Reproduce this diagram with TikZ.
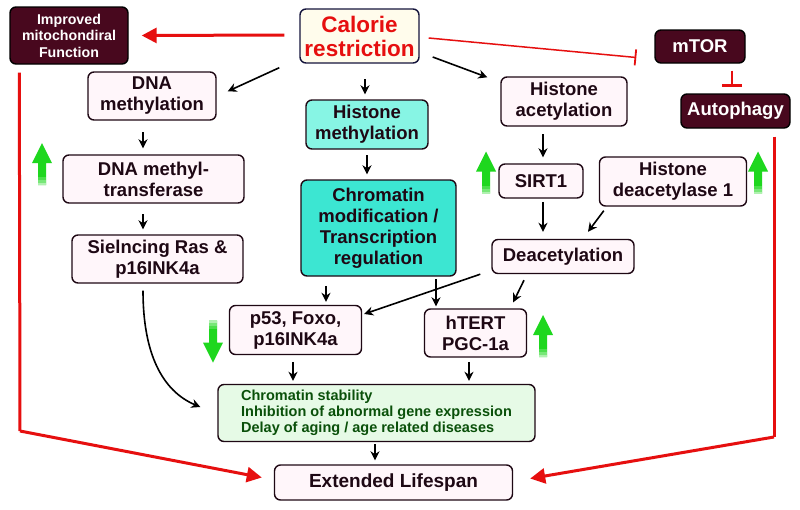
\documentclass[tikz,border=0pt]{standalone}
\usepackage{fontspec}
\setmainfont{Liberation Sans}
\usetikzlibrary{arrows.meta,calc}
\definecolor{maroon}{RGB}{72,8,30}
\definecolor{pinkbg}{RGB}{255,246,250}
\definecolor{calbg}{RGB}{255,252,236}
\definecolor{lcyan}{RGB}{135,245,228}
\definecolor{dcyan}{RGB}{60,230,210}
\definecolor{gbox}{RGB}{230,250,230}
\definecolor{gtext}{RGB}{10,80,10}
\definecolor{myred}{RGB}{230,15,15}
\definecolor{txt}{RGB}{30,8,20}
\definecolor{garrow}{RGB}{30,215,30}
\begin{document}
\begin{tikzpicture}[x=1pt,y=-1pt,
  box/.style={draw=txt, line width=1.4pt, rounded corners=6pt, fill=pinkbg, text=txt,
    font=\fontsize{18.5}{21}\selectfont\bfseries, align=center, inner sep=0pt},
  darkbox/.style={box, fill=maroon, text=white, draw=black},
  blk/.style={draw=black, line width=1.6pt, -{Stealth[length=9pt,width=9pt]}},
  redarr/.style={draw=myred, line width=3pt, -{Triangle[length=15pt,width=15pt]}},
  redline/.style={draw=myred, line width=3pt},
  inhib/.style={draw=myred, line width=1.5pt, -{Bar[width=16pt,line width=1.8pt]}},
  gup/.pic={\fill[garrow] (0,-21) -- (10,-1) -- (4,-1) -- (4,21) -- (-4,21) -- (-4,-1) -- (-10,-1) -- cycle;
     \fill[garrow!80!white] (-4,13) rectangle (4,16);
     \fill[garrow!60!white] (-4,16) rectangle (4,19);
     \fill[garrow!35!white] (-4,19) rectangle (4,21);}
]
\useasboundingbox (0,0) rectangle (800,509);
\fill[white] (0,0) rectangle (800,509);

% nodes
\node[darkbox, minimum width=118pt, minimum height=57pt,
  font=\fontsize{14.2}{16.5}\selectfont\bfseries] (impr) at (69,35.5) {Improved\\mitochondiral\\Function};
\node[box, fill=calbg, draw={rgb,255:red,20;green,20;blue,60}, text=myred, minimum width=119pt, minimum height=54pt,
  font=\fontsize{22.5}{24}\selectfont\bfseries] (cal) at (359.5,36) {Calorie\\restriction};
\node[darkbox, minimum width=90pt, minimum height=33pt] (mtor) at (700,46.5) {mTOR};
\node[darkbox, minimum width=109pt, minimum height=34pt] (auto) at (735.5,111) {Autophagy};
\node[box, minimum width=128pt, minimum height=48pt] (dnam) at (152,96) {DNA\\methylation};
\node[box, fill=lcyan, minimum width=122pt, minimum height=49pt] (hism) at (367,124.5) {Histone\\methylation};
\node[box, minimum width=126pt, minimum height=49pt] (hisa) at (564,101.5) {Histone\\acetylation};
\node[box, minimum width=181pt, minimum height=48pt] (dnmt) at (153.5,179) {DNA methyl-\\transferase};
\node[box, fill=dcyan, minimum width=155pt, minimum height=96pt] (chrom) at (378.5,228) {Chromatin\\modification /\\Transcription\\regulation};
\node[box, minimum width=84pt, minimum height=34pt] (sirt) at (541,181) {SIRT1};
\node[box, minimum width=147pt, minimum height=49pt] (hdac) at (673,181.5) {Histone\\deacetylase 1};
\node[box, minimum width=171pt, minimum height=48pt] (sil) at (157.5,259) {Sielncing Ras \&\\p16INK4a};
\node[box, minimum width=142pt, minimum height=34pt] (deac) at (563,256.5) {Deacetylation};
\node[box, minimum width=132pt, minimum height=49pt] (p53) at (295.5,330) {p53, Foxo,\\p16INK4a};
\node[box, minimum width=102pt, minimum height=48pt] (htert) at (475.5,333) {hTERT\\PGC-1a};
\node[box, fill=gbox, text=gtext, align=left, minimum width=317pt, minimum height=57pt,
  font=\fontsize{14.5}{16}\selectfont\bfseries] (green) at (376.5,413)
  {Chromatin stability\\Inhibition of abnormal gene expression\\Delay of aging / age related diseases};
\node[box, minimum width=238pt, minimum height=35pt, font=\fontsize{19}{21}\selectfont\bfseries] (ext) at (393.5,482.5) {Extended Lifespan};

% red connectors
\draw[redarr] ($(cal.west)+(-15,-1)$) -- ($(impr.east)+(13,0)$);
\draw[inhib] ($(cal.east)+(9,2)$) -- ($(mtor.west)+(-18,11)$);
\draw[inhib, line width=2.2pt, -{Bar[width=20pt,line width=2.4pt]}] ($(mtor.south)+(32,7)$) -- ($(mtor.south)+(32,23)$);
\coordinate (lturn) at (20,431);
\coordinate (rturn) at (774,437);
\draw[redline] ($(impr.south west)+(10,8)$) -- (lturn);
\draw[redarr] (lturn) -- ($(ext.west)+(-12,-5)$);
\draw[redline] ($(auto.south)+(38.5,8)$) -- (rturn);
\draw[redarr] (rturn) -- ($(ext.east)+(17,-4)$);

% black connectors
\draw[blk] ($(cal.south west)+(-20,4)$) -- ($(dnam.north east)+(11,20)$);
\draw[blk] ($(hism.north)+(-2,-20)$) -- ($(hism.north)+(-2,-5)$);
\draw[blk] ($(cal.east)+(13,21)$) -- ($(hisa.north west)+(-13,1)$);
\draw[blk] ($(dnmt.north)+(-10.5,-22)$) -- ($(dnmt.north)+(-10.5,-6)$);
\draw[blk] ($(sil.north)+(-14.5,-20)$) -- ($(sil.north)+(-14.5,-5)$);
\draw[blk] ($(chrom.north)+(-11.5,-24)$) -- ($(chrom.north)+(-11.5,-5)$);
\draw[blk] ($(sirt.north)+(2,-29)$) -- ($(sirt.north)+(2,-6)$);
\draw[blk] ($(deac.north)+(-20,-37)$) -- ($(deac.north)+(-20,-7)$);
\draw[blk] ($(hdac.south west)+(5,4)$) -- ($(deac.north)+(25,-7)$);
\draw[blk] ($(p53.north)+(30.5,-19)$) -- ($(p53.north)+(30.5,-3)$);
\draw[blk] ($(htert.north)+(-39.5,-29)$) -- ($(htert.north)+(-39.5,-2)$);
\draw[blk] ($(deac.south west)+(-11,0)$) -- ($(p53.east)+(2,-16)$);
\draw[blk] ($(deac.south)+(-39,6)$) -- ($(htert.north east)+(-14,-6)$);
\draw[blk] ($(green.north)+(-83.5,-22)$) -- ($(green.north)+(-83.5,-3)$);
\draw[blk] ($(green.north)+(92.5,-22)$) -- ($(green.north)+(92.5,-3)$);
\draw[blk] ($(ext.north)+(-18.5,-20)$) -- ($(ext.north)+(-18.5,-4)$);
\draw[blk] ($(sil.south)+(-14.5,7)$) .. controls ($(sil.south)+(-14.5,70)$) and ($(green.west)+(-55,-22)$) .. ($(green.west)+(-17,-6)$);

% green indicator arrows
\pic at (42,164) {gup};
\pic at (486,172.5) {gup};
\pic at (758,172.5) {gup};
\pic at (543,336) {gup};
\pic[rotate=180] at (213,341.5) {gup};
\end{tikzpicture}
\end{document}
